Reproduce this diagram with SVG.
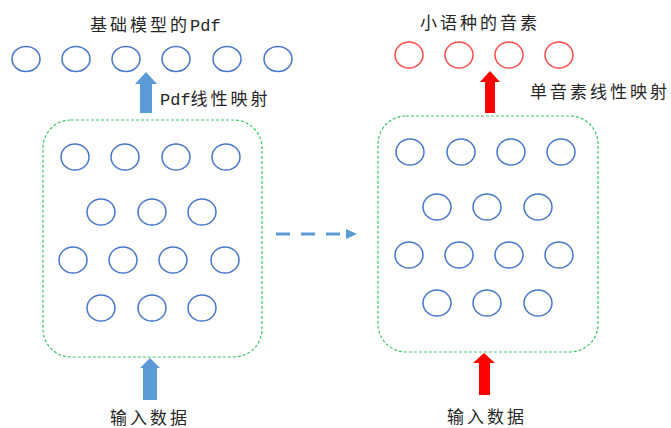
<svg xmlns="http://www.w3.org/2000/svg" width="671" height="428" viewBox="0 0 671 428">
<style>
.b{fill:none;stroke:#4A78C8;stroke-width:1.5}
.r{fill:none;stroke:#FF4B4B;stroke-width:1.5}
.box{fill:none;stroke:#3CC46A;stroke-width:1.2;stroke-dasharray:3 2}
.t{font-family:"Noto Sans CJK SC","Liberation Sans",sans-serif;font-size:17px;fill:#262626;letter-spacing:3px}
.m{font-family:"Liberation Mono",monospace;letter-spacing:0}
</style>
<rect width="671" height="428" fill="#fff"/>
<g id="left-output">
<text class="t" x="90" y="31">基础模型的<tspan class="m">Pdf</tspan></text>
<ellipse class="b" cx="26" cy="59" rx="14" ry="12.5"/>
<ellipse class="b" cx="76" cy="59" rx="14" ry="12.5"/>
<ellipse class="b" cx="126" cy="59" rx="14" ry="12.5"/>
<ellipse class="b" cx="176" cy="59" rx="14" ry="12.5"/>
<ellipse class="b" cx="227" cy="59" rx="14" ry="12.5"/>
<ellipse class="b" cx="278" cy="59" rx="14" ry="12.5"/>
</g>
<g id="right-output">
<text class="t" x="420" y="29">小语种的音素</text>
<ellipse class="r" cx="409" cy="55" rx="14" ry="13"/>
<ellipse class="r" cx="459" cy="55" rx="14" ry="13"/>
<ellipse class="r" cx="509" cy="55" rx="14" ry="13"/>
<ellipse class="r" cx="559" cy="55" rx="14" ry="13"/>
</g>
<g id="left-model">
<rect class="box" x="43" y="120" width="219" height="237" rx="28"/>
<ellipse class="b" cx="75" cy="157" rx="14" ry="13"/>
<ellipse class="b" cx="125" cy="157" rx="14" ry="13"/>
<ellipse class="b" cx="176" cy="157" rx="14" ry="13"/>
<ellipse class="b" cx="226" cy="157" rx="14" ry="13"/>
<ellipse class="b" cx="101" cy="212" rx="14" ry="13"/>
<ellipse class="b" cx="152" cy="212" rx="14" ry="13"/>
<ellipse class="b" cx="202" cy="212" rx="14" ry="13"/>
<ellipse class="b" cx="73" cy="260" rx="14" ry="13"/>
<ellipse class="b" cx="123" cy="260" rx="14" ry="13"/>
<ellipse class="b" cx="173" cy="260" rx="14" ry="13"/>
<ellipse class="b" cx="225" cy="260" rx="14" ry="13"/>
<ellipse class="b" cx="101" cy="308" rx="14" ry="13"/>
<ellipse class="b" cx="152" cy="308" rx="14" ry="13"/>
<ellipse class="b" cx="202" cy="308" rx="14" ry="13"/>
</g>
<g id="right-model">
<rect class="box" x="378" y="116" width="220" height="236" rx="28"/>
<ellipse class="b" cx="410" cy="152" rx="14" ry="13"/>
<ellipse class="b" cx="461" cy="152" rx="14" ry="13"/>
<ellipse class="b" cx="511" cy="152" rx="14" ry="13"/>
<ellipse class="b" cx="561" cy="152" rx="14" ry="13"/>
<ellipse class="b" cx="437" cy="207" rx="14" ry="13"/>
<ellipse class="b" cx="487" cy="207" rx="14" ry="13"/>
<ellipse class="b" cx="538" cy="207" rx="14" ry="13"/>
<ellipse class="b" cx="409" cy="255" rx="14" ry="13"/>
<ellipse class="b" cx="459" cy="255" rx="14" ry="13"/>
<ellipse class="b" cx="509" cy="255" rx="14" ry="13"/>
<ellipse class="b" cx="559" cy="255" rx="14" ry="13"/>
<ellipse class="b" cx="437" cy="303" rx="14" ry="13"/>
<ellipse class="b" cx="487" cy="303" rx="14" ry="13"/>
<ellipse class="b" cx="538" cy="303" rx="14" ry="13"/>
</g>
<g id="left-input">
<text class="t" x="110" y="424">输入数据</text>
</g>
<g id="right-input">
<text class="t" x="447" y="423">输入数据</text>
</g>
<g id="connectors">
<polygon fill="#5B9BD5" points="146,72 157,84 152,84 152,113 140,113 140,84 135,84"/>
<text class="t" x="160" y="105"><tspan class="m">Pdf</tspan>线性映射</text>
<polygon fill="#FF0000" points="490,71 500,82 495,82 495,113 485,113 485,82 480,82"/>
<text class="t" x="530" y="98">单音素线性映射</text>
<polygon fill="#5B9BD5" points="150,358 160,368 157,368 157,400 143,400 143,368 140,368"/>
<polygon fill="#FF0000" points="484,353 495,363 490,363 490,395 479,395 479,363 473,363"/>
<line x1="276" y1="234" x2="346" y2="234" stroke="#5B9BD5" stroke-width="3" stroke-dasharray="14 11"/>
<polygon fill="#5B9BD5" points="357,234 346,229 346,239"/>
</g>
</svg>
